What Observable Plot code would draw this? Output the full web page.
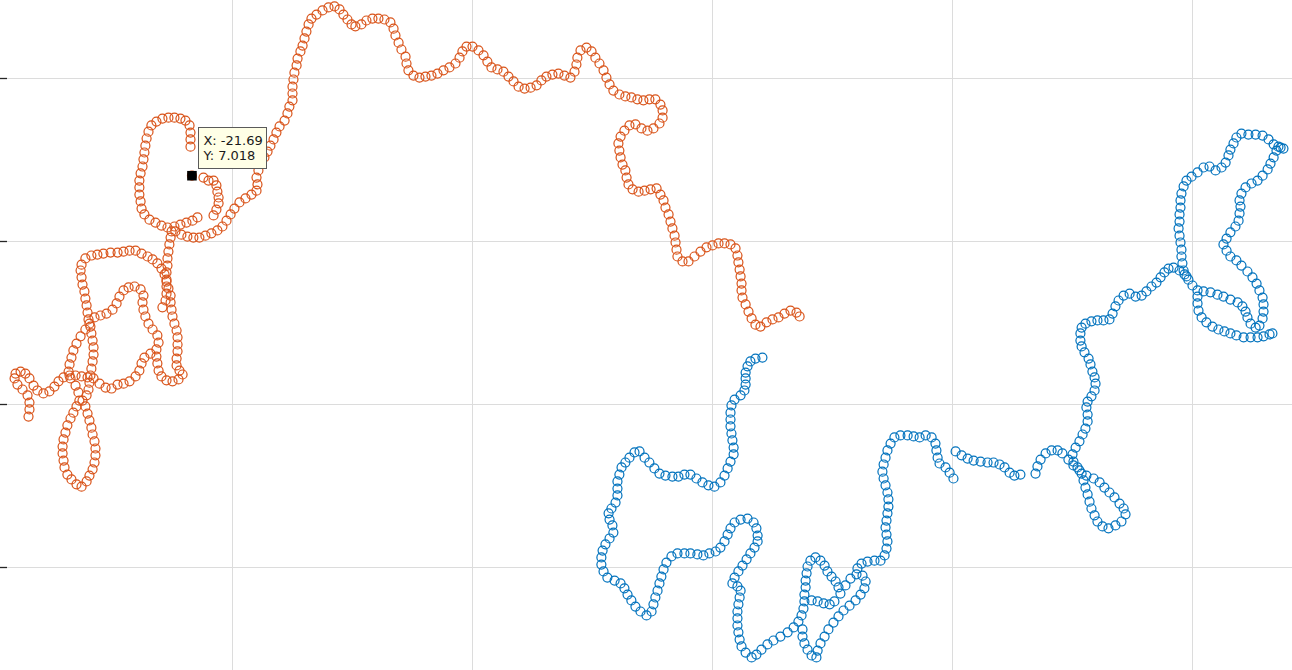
<!DOCTYPE html>
<html><head><meta charset="utf-8">
<script src="https://cdn.jsdelivr.net/npm/d3@7"></script>
<script src="https://cdn.jsdelivr.net/npm/@observablehq/plot@0.6"></script>
<style>html,body{margin:0;padding:0;background:#fff;overflow:hidden}</style>
</head><body><div id="chart"></div>
<script>
const orangeX = [-28.50,-28.46,-28.46,-28.54,-28.75,-28.96,-29.08,-29.04,-28.83,-28.63,
-28.46,-28.29,-28.13,-27.88,-27.63,-27.42,-27.25,-27.04,-26.79,-26.54,
-26.29,-26.04,-25.79,-25.54,-25.29,-25.04,-24.79,-24.54,-24.29,-24.04,
-23.88,-23.79,-23.67,-23.42,-23.17,-23.08,-23.13,-23.33,-23.50,-23.63,
-23.71,-23.75,-23.71,-23.83,-24.08,-24.33,-24.54,-24.71,-24.83,-25.00,
-25.25,-25.50,-25.75,-25.96,-26.13,-26.33,-26.50,-26.63,-26.71,-26.79,
-26.83,-26.75,-26.54,-26.42,-26.38,-26.50,-26.63,-26.75,-26.88,-26.96,
-27.04,-27.08,-27.08,-27.04,-27.00,-26.88,-26.71,-26.50,-26.29,-26.08,
-25.96,-25.83,-25.75,-25.71,-25.71,-25.75,-25.83,-25.88,-25.96,-26.04,
-26.13,-26.25,-26.08,-26.00,-25.96,-25.92,-25.88,-25.83,-25.79,-25.79,
-25.83,-25.88,-25.92,-26.00,-26.04,-26.08,-26.13,-26.17,-26.25,-26.29,
-26.33,-26.29,-26.13,-25.88,-25.63,-25.38,-25.08,-24.79,-24.54,-24.29,
-24.04,-23.79,-23.54,-23.33,-23.13,-22.96,-22.83,-22.75,-22.67,-22.58,
-22.58,-22.54,-22.50,-22.42,-22.33,-22.29,-22.29,-22.29,-22.33,-22.33,
-22.21,-22.08,-22.25,-22.50,-22.75,-22.96,-23.08,-23.13,-23.17,
-22.92,-22.79,-22.75,-22.75,-22.75,-22.75,-22.71,-22.71,-22.67,-22.63,-22.58,-22.54,
-22.71,-22.96,-23.21,-23.46,-23.67,-23.79,-23.83,-23.88,-23.88,-23.88,-23.83,-23.75,-23.71,-23.67,-23.63,-23.58,-23.50,-23.38,-23.17,-22.92,-22.67,-22.42,-22.17,-21.96,-21.79,-21.75,-21.75,-21.75,
-21.69,
-21.21,-21.00,-20.79,-20.67,-20.63,-20.58,-20.58,-20.67,-20.79,
-22.42,-22.17,-21.92,-21.67,-21.46,
-22.38,-22.13,-21.88,-21.63,-21.38,-21.13,-20.88,-20.63,-20.42,-20.25,-20.08,-19.92,-19.71,-19.46,-19.21,-19.00,
-18.96,-19.00,-18.92,-18.79,-18.67,-18.54,-18.42,-18.29,-18.17,-18.04,-17.83,-17.71,-17.63,-17.50,-17.50,-17.50,-17.46,-17.42,-17.33,-17.29,
-17.17,-17.08,-17.00,-16.92,-16.83,-16.71,-16.50,-16.25,-16.00,-15.75,-15.54,-15.38,-15.21,-15.04,-14.88,-14.63,-14.42,-14.17,-13.92,-13.67,
-13.42,-13.29,-13.21,-13.08,-12.96,-12.79,-12.75,-12.67,-12.46,-12.21,-11.96,-11.71,-11.46,-11.21,-10.96,-10.71,-10.54,-10.42,-10.25,-10.00,
-9.75,-9.54,-9.38,-9.21,-8.96,-8.71,-8.50,-8.29,-8.08,-7.83,-7.58,-7.33,-7.13,-6.92,-6.67,-6.42,-6.17,-5.92,-5.75,-5.67,
-5.63,-5.50,-5.25,-5.04,-4.88,-4.71,-4.54,-4.42,-4.29,-4.13,-3.88,-3.63,-3.38,-3.13,-2.88,-2.63,-2.38,-2.17,-2.08,-2.08,
-2.21,-2.46,-2.71,-2.96,-3.21,-3.46,-3.67,-3.83,-3.92,-3.88,-3.83,-3.75,-3.63,-3.58,-3.50,-3.33,-3.08,-2.83,-2.58,-2.33,
-2.17,-2.04,-1.96,-1.83,-1.75,-1.67,-1.58,-1.54,-1.50,-1.46,-1.25,-1.00,-0.75,-0.50,-0.25,0.00,0.25,0.50,0.75,0.96,
1.04,1.08,1.13,1.17,1.21,1.21,1.25,1.38,1.50,1.63,1.79,2.00,2.25,2.50,2.75,3.00,3.25,3.50,3.63];

const orangeY = [-0.37,-0.15,0.06,0.28,0.46,0.61,0.80,0.95,1.01,0.95,
0.80,0.58,0.43,0.34,0.40,0.55,0.71,0.83,0.89,0.89,
0.86,0.83,0.80,0.64,0.52,0.49,0.61,0.64,0.71,0.86,
1.04,1.26,1.44,1.56,1.69,1.90,2.12,2.30,2.48,2.70,
2.91,3.13,3.34,3.53,3.62,3.59,3.50,3.31,3.10,2.91,
2.79,2.73,2.67,2.48,2.30,2.09,1.87,1.66,1.44,1.23,
1.01,0.80,0.58,0.37,0.12,-0.06,-0.25,-0.43,-0.64,-0.86,
-1.07,-1.29,-1.50,-1.72,-1.93,-2.15,-2.30,-2.45,-2.52,-2.36,
-2.18,-1.99,-1.78,-1.56,-1.35,-1.13,-0.92,-0.71,-0.49,-0.28,
-0.06,0.12,0.28,0.46,0.67,0.89,1.10,1.32,1.53,1.75,
1.96,2.18,2.39,2.61,2.82,3.04,3.25,3.47,3.68,3.90,
4.11,4.29,4.48,4.57,4.60,4.63,4.66,4.66,4.69,4.72,
4.72,4.63,4.54,4.45,4.33,4.17,3.99,3.77,3.56,3.34,
3.13,2.91,2.70,2.48,2.27,2.06,1.84,1.63,1.41,1.20,
1.04,0.92,0.77,0.71,0.74,0.86,1.04,1.26,1.47,
2.98,3.19,3.40,3.62,3.83,4.05,4.26,4.48,4.69,4.91,5.12,5.31,
5.43,5.49,5.58,5.67,5.83,6.01,6.23,6.44,6.66,6.87,7.09,7.30,7.52,7.73,7.94,8.16,8.37,8.56,8.68,8.77,8.80,8.80,8.77,8.71,8.56,8.34,8.13,7.91,
7.018,
6.96,6.87,6.87,6.72,6.53,6.35,6.17,5.98,5.80,
5.46,5.52,5.58,5.64,5.74,
5.31,5.21,5.15,5.12,5.12,5.18,5.25,5.34,5.46,5.64,5.83,6.01,6.20,6.32,6.44,6.56,
6.75,6.96,7.18,7.39,7.58,7.76,7.94,8.13,8.34,8.53,8.71,8.93,9.14,9.33,9.54,9.75,9.97,10.18,10.40,10.61,
10.83,11.01,11.23,11.44,11.66,11.84,11.96,12.09,12.18,12.21,12.12,11.96,11.81,11.66,11.60,11.66,11.78,11.84,11.84,11.81,
11.72,11.53,11.32,11.10,10.89,10.67,10.46,10.25,10.09,10.03,10.06,10.09,10.15,10.25,10.34,10.46,10.64,10.83,10.98,10.98,
10.86,10.71,10.52,10.34,10.28,10.21,10.06,9.91,9.75,9.69,9.72,9.79,9.94,10.06,10.12,10.15,10.09,10.03,10.21,10.43,
10.64,10.86,10.95,10.83,10.64,10.46,10.25,10.03,9.82,9.63,9.51,9.45,9.42,9.36,9.33,9.36,9.36,9.20,9.02,8.80,
8.62,8.47,8.40,8.47,8.59,8.56,8.40,8.22,8.01,7.79,7.58,7.36,7.18,6.96,6.75,6.60,6.53,6.56,6.60,6.63,
6.44,6.26,6.04,5.83,5.61,5.40,5.18,4.97,4.75,4.54,4.39,4.39,4.54,4.69,4.82,4.88,4.94,4.94,4.91,4.79,
4.57,4.36,4.14,3.93,3.71,3.50,3.28,3.07,2.85,2.64,2.45,2.39,2.52,2.61,2.67,2.79,2.88,2.82,2.70];

const blueX = [2.08,1.79,1.58,1.46,1.38,1.38,1.38,1.33,1.17,0.92,
0.79,0.75,0.75,0.75,0.79,0.83,0.88,0.88,0.75,0.63,
0.50,0.33,0.08,-0.17,-0.42,-0.67,-0.92,-1.17,-1.42,-1.67,
-1.96,-2.21,-2.42,-2.63,-2.83,-3.04,-3.25,-3.46,-3.63,-3.79,
-3.88,-3.96,-3.96,-3.96,-4.04,-4.21,-4.33,-4.29,-4.17,-4.13,
-4.29,-4.46,-4.58,-4.63,-4.63,-4.54,-4.38,-4.08,-3.83,-3.67,
-3.54,-3.38,-3.21,-3.00,-2.75,-2.54,-2.46,-2.38,-2.29,-2.21,
-2.13,-2.04,-1.92,-1.71,-1.46,-1.17,-0.92,-0.63,-0.38,-0.13,
0.13,0.33,0.50,0.63,0.75,0.92,1.17,1.46,1.71,1.83,
1.88,1.88,1.75,1.58,1.42,1.25,1.08,0.92,0.83,1.04,
1.17,1.13,1.08,1.04,1.04,1.04,1.08,1.13,1.21,1.38,
1.63,1.83,2.04,2.29,2.54,2.83,3.13,3.38,3.58,3.71,
3.79,3.83,3.83,3.88,3.88,3.92,3.96,4.08,4.29,4.50,
4.67,4.79,4.96,5.13,5.25,5.08,4.88,4.63,4.38,4.13,
3.75,3.75,3.83,3.96,4.13,4.33,4.38,4.50,4.67,4.83,
5.04,5.25,5.46,5.71,5.96,6.17,6.33,6.38,6.25,6.00,
5.75,5.54,5.33,6.04,6.21,6.46,6.75,7.00,7.17,7.25,
7.29,7.25,7.21,7.25,7.29,7.33,7.33,7.29,7.21,7.13,
7.08,7.13,7.21,7.29,7.42,7.58,7.83,8.13,8.38,8.63,
8.88,9.13,9.29,9.33,9.38,9.46,9.71,9.88,10.04,10.13,
10.38,10.63,10.88,11.17,11.46,11.71,11.96,12.17,12.38,12.58,
12.83,13.46,13.54,13.67,13.88,14.13,14.38,14.58,14.83,15.04,
15.29,15.58,15.88,16.13,16.33,16.54,16.75,16.96,17.13,17.21,
17.04,16.79,16.50,16.25,16.04,15.92,15.79,15.71,15.63,15.54,
15.46,15.38,15.21,15.04,15.00,15.13,15.29,15.42,15.54,15.63,
15.63,15.58,15.63,15.79,15.92,15.96,15.92,15.83,15.75,15.67,
15.50,15.38,15.33,15.33,15.38,15.54,15.79,16.04,16.29,16.54,
16.67,16.79,16.92,17.13,17.38,17.63,17.88,18.08,18.29,18.50,
18.67,18.83,19.00,19.21,19.46,19.67,19.83,20.00,20.21,
20.21,20.21,20.25,20.38,20.58,20.83,21.08,21.33,21.58,21.83,22.13,22.42,22.71,22.96,23.21,23.33,
20.46,20.75,21.04,21.29,21.58,21.88,22.08,22.21,22.29,22.42,22.63,22.79,22.92,22.96,22.96,
22.92,22.79,22.67,22.50,22.29,22.04,21.83,21.58,21.42,21.29,
21.42,21.58,21.79,21.92,21.96,22.00,21.96,22.04,22.21,22.46,
22.71,22.92,23.13,23.25,23.38,23.50,23.67,23.79,23.58,23.38,
23.17,22.92,22.63,22.33,22.04,21.83,21.71,21.58,21.50,21.38,
21.21,20.96,20.71,20.46,20.21,19.96,19.75,19.63,19.54,19.50,
19.50,19.46,19.46,19.42,19.46,19.50,19.54,19.54,19.58,19.63,19.75];

const blueY = [1.44,1.41,1.32,1.17,0.98,0.80,0.61,0.43,0.28,0.15,
-0.03,-0.25,-0.46,-0.67,-0.89,-1.10,-1.32,-1.53,-1.75,-1.96,
-2.18,-2.39,-2.52,-2.48,-2.39,-2.27,-2.15,-2.15,-2.21,-2.21,
-2.18,-2.12,-1.96,-1.78,-1.63,-1.44,-1.47,-1.63,-1.78,-1.93,
-2.15,-2.36,-2.58,-2.79,-3.01,-3.19,-3.34,-3.53,-3.71,-3.93,
-4.11,-4.29,-4.48,-4.69,-4.91,-5.12,-5.31,-5.40,-5.49,-5.64,
-5.83,-6.01,-6.20,-6.35,-6.47,-6.35,-6.13,-5.92,-5.71,-5.49,
-5.28,-5.06,-4.85,-4.66,-4.57,-4.57,-4.57,-4.60,-4.63,-4.57,
-4.51,-4.39,-4.20,-3.99,-3.80,-3.62,-3.53,-3.50,-3.62,-3.80,
-4.02,-4.20,-4.39,-4.57,-4.75,-4.94,-5.12,-5.31,-5.49,-5.58,
-5.71,-5.92,-6.13,-6.35,-6.56,-6.78,-6.99,-7.21,-7.42,-7.61,
-7.76,-7.67,-7.52,-7.36,-7.24,-7.12,-6.99,-6.84,-6.66,-6.47,
-6.26,-6.04,-5.83,-5.61,-5.40,-5.18,-4.97,-4.79,-4.69,-4.79,
-4.94,-5.12,-5.28,-5.43,-5.61,-6.04,-6.13,-6.10,-6.04,-6.01,
-6.90,-7.12,-7.33,-7.52,-7.70,-7.76,-7.55,-7.33,-7.12,-6.90,
-6.69,-6.50,-6.32,-6.17,-6.01,-5.83,-5.64,-5.43,-5.25,-5.21,
-5.34,-5.55,-5.80,-5.03,-4.88,-4.82,-4.79,-4.79,-4.63,-4.42,
-4.20,-3.99,-3.77,-3.56,-3.34,-3.13,-2.91,-2.70,-2.48,-2.27,
-2.06,-1.84,-1.63,-1.41,-1.20,-1.01,-0.95,-0.95,-0.98,-1.01,
-0.95,-1.01,-1.20,-1.41,-1.63,-1.81,-1.93,-2.09,-2.27,-1.44,
-1.56,-1.66,-1.72,-1.75,-1.78,-1.78,-1.84,-1.93,-2.09,-2.18,
-2.15,-2.12,-1.90,-1.69,-1.50,-1.41,-1.41,-1.50,-1.69,-1.87,
-2.02,-2.18,-2.27,-2.39,-2.55,-2.70,-2.85,-3.04,-3.19,-3.37,
-3.59,-3.71,-3.80,-3.74,-3.59,-3.40,-3.19,-2.98,-2.76,-2.55,
-2.33,-2.12,-1.93,-1.75,-1.53,-1.32,-1.13,-0.92,-0.74,-0.52,
-0.31,-0.09,0.09,0.25,0.43,0.64,0.83,1.01,1.23,1.41,
1.60,1.78,1.96,2.18,2.36,2.48,2.55,2.58,2.58,2.61,
2.79,3.01,3.19,3.34,3.40,3.31,3.34,3.47,3.62,3.74,
3.90,4.05,4.17,4.20,4.11,3.99,3.83,3.65,3.50,
3.31,3.10,2.88,2.67,2.52,2.39,2.30,2.24,2.18,2.12,2.06,2.06,2.06,2.09,2.15,2.18,
3.47,3.44,3.37,3.31,3.22,3.13,3.01,2.85,2.67,2.48,2.36,2.42,2.64,2.85,3.07,
3.28,3.50,3.71,3.90,4.08,4.26,4.42,4.54,4.72,4.91,
5.09,5.28,5.46,5.64,5.86,6.07,6.26,6.47,6.66,6.78,
6.87,7.02,7.21,7.39,7.58,7.79,7.88,7.85,7.91,7.98,
8.13,8.25,8.28,8.28,8.31,8.19,8.01,7.82,7.64,7.42,
7.27,7.18,7.30,7.27,7.12,6.99,6.87,6.69,6.47,6.26,
6.04,5.83,5.61,5.40,5.18,4.97,4.75,4.54,4.33,4.11,3.93];

const xGridValues = [-20, -10, 0, 10, 20];
const yGridValues = [-5, 0, 5, 10];
const xDomain = [-29.667, 24.167];
const yDomain = [-8.16, 12.393];
const tipX = -21.69;
const tipY = 7.018;
const tipLines = ["X: -21.69", "Y: 7.018"];

const toRows = (xs, ys) => d3.range(Math.min(xs.length, ys.length)).map(i => ({x: xs[i], y: ys[i]}));
const orange = toRows(orangeX, orangeY);
const blue = toRows(blueX, blueY);

const chart = Plot.plot({
  width: 1292,
  height: 670,
  margin: 0,
  style: {background: "#ffffff"},
  x: {domain: xDomain, axis: null},
  y: {domain: yDomain, axis: null},
  marks: [
    Plot.ruleX(xGridValues, {stroke: "#dcdcdc", strokeWidth: 1}),
    Plot.ruleY(yGridValues, {stroke: "#dcdcdc", strokeWidth: 1}),
    Plot.dot(orange, {x: "x", y: "y", r: 4.5, stroke: "#D95319", strokeWidth: 1.2, fill: "none"}),
    Plot.dot(blue, {x: "x", y: "y", r: 4.5, stroke: "#0072BD", strokeWidth: 1.2, fill: "none"}),
    Plot.dot([{x: tipX, y: tipY}], {x: "x", y: "y", symbol: "square", r: 5.4, fill: "#000", stroke: "none"})
  ]
});

const svg = d3.select(chart);
const sx = chart.scale("x"), sy = chart.scale("y");
// inward y-axis ticks on the left edge
const tg = svg.append("g");
yGridValues.forEach(v => {
  const yy = Math.round(sy.apply(v)) + 0.5;
  tg.append("line").attr("x1", 0).attr("x2", 7).attr("y1", yy).attr("y2", yy)
    .attr("stroke", "#262626").attr("stroke-width", 1.3);
});
// data tip
const px = sx.apply(tipX), py = sy.apply(tipY);
const g = svg.append("g").attr("text-anchor", "start");
g.append("rect").attr("x", Math.round(px) + 7.5).attr("y", Math.round(py) - 47.5)
  .attr("width", 68).attr("height", 41)
  .attr("fill", "#ffffe6").attr("stroke", "#5a5a5a").attr("stroke-width", 1);
tipLines.forEach((t, i) => {
  g.append("text").attr("x", px + 12).attr("y", py - 30 + i * 15)
    .attr("text-anchor", "start")
    .style("font-family", "'DejaVu Sans', sans-serif").style("font-size", "13px")
    .attr("fill", "#1a1a1a").text(t);
});
document.getElementById("chart").appendChild(chart);
</script>
</body></html>
